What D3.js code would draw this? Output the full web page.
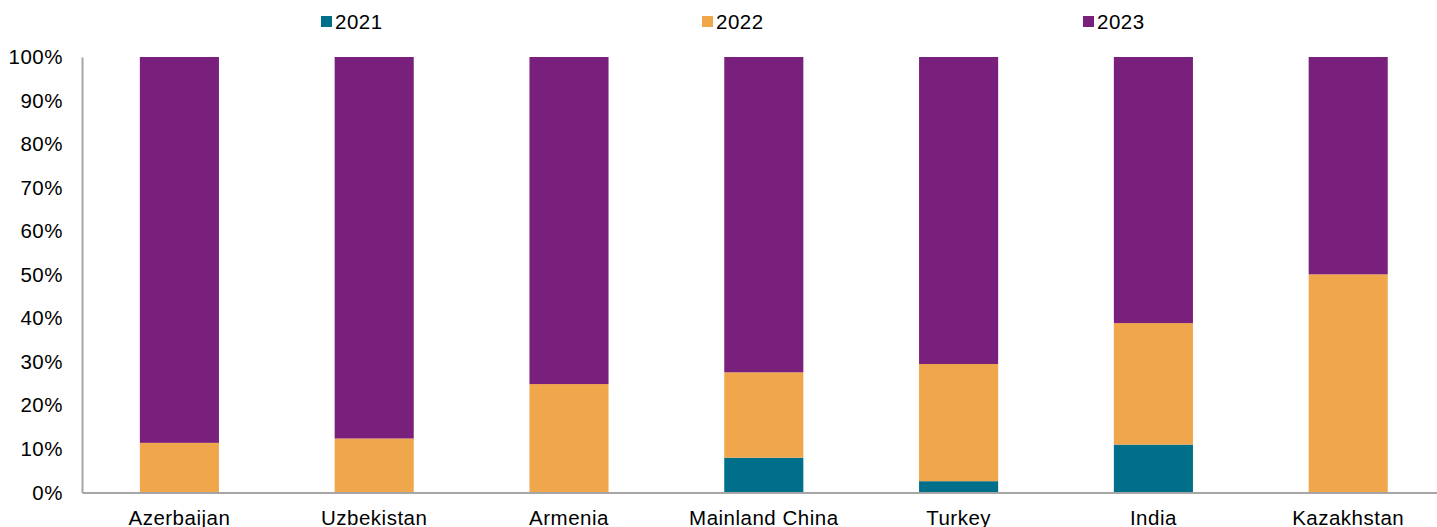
<!DOCTYPE html>
<html>
<head>
<meta charset="utf-8">
<script src="https://cdn.jsdelivr.net/npm/d3@7"></script>
<style>
  html, body { margin: 0; padding: 0; background: #fff; }
  svg { display: block; font-family: "Liberation Sans", Arial, sans-serif; }
</style>
</head>
<body>
<svg id="chart" width="1437" height="527"></svg>
<script>
// Share of each year in the total, by country (percent)
const countries = ["Azerbaijan", "Uzbekistan", "Armenia", "Mainland China", "Turkey", "India", "Kazakhstan"];
const years = ["2021", "2022", "2023"];
const share2021 = [0, 0, 0, 8.0, 2.6, 11.0, 0];
const share2022 = [11.4, 12.4, 24.9, 19.6, 26.9, 27.9, 50.1];
const share2023 = [88.6, 87.6, 75.1, 72.4, 70.5, 61.1, 49.9];
const yTicks = [0, 10, 20, 30, 40, 50, 60, 70, 80, 90, 100];
const colors = ["#006f89", "#f0a64b", "#78207c"];

const svg = d3.select("#chart");
const margin = { left: 82, top: 57, bottom: 492.5 };
const plotRight = 82 + 7 * 194.8;
const fontSize = 20.5;
const spacing = 0.5;

const rows = countries.map((c, i) => ({
  country: c, "2021": share2021[i], "2022": share2022[i], "2023": share2023[i]
}));
const stacked = d3.stack().keys(years)(rows);

const x = d3.scaleBand().domain(countries).range([margin.left, plotRight]).paddingInner(0.594).paddingOuter(0.297);
const y = d3.scaleLinear().domain([0, 100]).range([margin.bottom, margin.top]);
const color = d3.scaleOrdinal().domain(years).range(colors);

// Stacked bars
svg.append("g").selectAll("g")
  .data(stacked)
  .join("g")
  .attr("fill", d => color(d.key))
  .selectAll("rect")
  .data(d => d)
  .join("rect")
  .attr("x", d => x(d.data.country))
  .attr("width", x.bandwidth())
  .attr("y", d => y(d[1]))
  .attr("height", d => y(d[0]) - y(d[1]));

// Y axis
const yAxis = svg.append("g")
  .attr("transform", `translate(${margin.left},0)`)
  .call(d3.axisLeft(y).tickValues(yTicks).tickFormat(d => d + "%").tickSize(0).tickPadding(19));
yAxis.select(".domain").attr("stroke", "#a6a6a6").attr("stroke-width", 2);
yAxis.selectAll("text").attr("font-size", fontSize).attr("letter-spacing", spacing)
  .attr("fill", "#000").attr("font-family", "Liberation Sans, Arial, sans-serif");

// X axis
const xAxis = svg.append("g")
  .attr("transform", `translate(0,${margin.bottom})`)
  .call(d3.axisBottom(x).tickSize(0).tickPadding(18));
xAxis.select(".domain").attr("stroke", "#a6a6a6").attr("stroke-width", 2);
xAxis.selectAll("text").attr("font-size", fontSize).attr("letter-spacing", spacing)
  .attr("fill", "#000").attr("font-family", "Liberation Sans, Arial, sans-serif");

// Legend
const legendX = [321, 702, 1083];
const legend = svg.append("g").selectAll("g")
  .data(years)
  .join("g")
  .attr("transform", (d, i) => `translate(${legendX[i]},0)`);
legend.append("rect").attr("x", 0).attr("y", 16).attr("width", 11).attr("height", 11).attr("fill", d => color(d));
legend.append("text").attr("x", 14).attr("y", 28.5).attr("font-size", fontSize).attr("letter-spacing", spacing)
  .attr("fill", "#000").text(d => d);
</script>
</body>
</html>
